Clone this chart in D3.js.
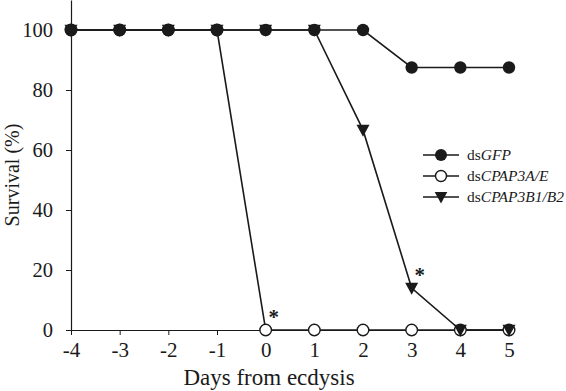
<!DOCTYPE html>
<html>
<head>
<meta charset="utf-8">
<script src="https://cdn.jsdelivr.net/npm/d3@7"></script>
<style>
  body { margin: 0; background: #fff; }
  svg { display: block; font-family: 'Liberation Serif', 'Times New Roman', serif; }
</style>
</head>
<body>
<svg id="chart" width="566" height="391"></svg>
<script>
const days = [-4, -3, -2, -1, 0, 1, 2, 3, 4, 5];
const dsGFP = [100, 100, 100, 100, 100, 100, 100, 87.5, 87.5, 87.5];
const dsCPAP3AE = [100, 100, 100, 100, 0, 0, 0, 0, 0, 0];
const dsCPAP3B1B2 = [100, 100, 100, 100, 100, 100, 66.7, 14, 0, 0];
const yTicks = [0, 20, 40, 60, 80, 100];
const legendNames = ['GFP', 'CPAP3A/E', 'CPAP3B1/B2'];
// asterisks: [day, value]
const stars = [[0, 0], [3, 14]];

const width = 566;
const height = 391;
const margin = { top: 0, right: 57, bottom: 61, left: 71 };
const ink = '#1a1a1a';

const svg = d3.select('#chart');

const x = d3.scaleLinear()
  .domain([-4, 5])
  .range([margin.left, width - margin.right]);

const y = d3.scaleLinear()
  .domain([0, 110])
  .range([height - margin.bottom, margin.top]);

// axes
svg.append('g')
  .attr('transform', `translate(0,${height - margin.bottom})`)
  .call(d3.axisBottom(x).tickValues(days).tickFormat(d3.format('d')).tickSize(5).tickSizeOuter(0))
  .call((g) => {
    g.select('.domain').attr('stroke', ink).attr('stroke-width', 1.2);
    g.selectAll('.tick line').attr('stroke', ink);
    g.selectAll('.tick text')
      .attr('fill', ink)
      .attr('font-size', 21)
      .attr('font-family', 'Liberation Serif, serif')
      .attr('y', 27)
      .attr('dy', 0)
      .text((d) => (d < 0 ? '-' + Math.abs(d) : d));
  });

svg.append('g')
  .attr('transform', `translate(${margin.left},0)`)
  .call(d3.axisLeft(y).tickValues(yTicks).tickSize(5).tickSizeOuter(0))
  .call((g) => {
    g.select('.domain').attr('stroke', ink).attr('stroke-width', 1.2);
    g.selectAll('.tick line').attr('stroke', ink);
    g.selectAll('.tick text')
      .attr('fill', ink)
      .attr('font-size', 20.5)
      .attr('font-family', 'Liberation Serif, serif')
      .attr('x', -18);
  });

// axis titles
svg.append('text')
  .attr('x', 269)
  .attr('y', 385)
  .attr('text-anchor', 'middle')
  .attr('font-size', 23)
  .attr('fill', ink)
  .text('Days from ecdysis');

svg.append('text')
  .attr('transform', `translate(19,175) rotate(-90)`)
  .attr('text-anchor', 'middle')
  .attr('font-size', 20)
  .attr('fill', ink)
  .text('Survival (%)');

const line = d3.line()
  .x((d, i) => x(days[i]))
  .y((d) => y(d));

const triangle = (cx, cy, s) => `M${cx - s},${cy - s * 0.8}L${cx + s},${cy - s * 0.8}L${cx},${cy + s * 1.05}Z`;

function drawSeries(values) {
  svg.append('path')
    .datum(values)
    .attr('fill', 'none')
    .attr('stroke', ink)
    .attr('stroke-width', 1.6)
    .attr('d', line);
}

drawSeries(dsCPAP3AE);
drawSeries(dsCPAP3B1B2);
drawSeries(dsGFP);

// markers
svg.append('g').selectAll('circle')
  .data(dsCPAP3AE)
  .join('circle')
  .attr('cx', (d, i) => x(days[i]))
  .attr('cy', (d) => y(d))
  .attr('r', 5.8)
  .attr('fill', '#fff')
  .attr('stroke', ink)
  .attr('stroke-width', 1.4);

svg.append('g').selectAll('path')
  .data(dsCPAP3B1B2)
  .join('path')
  .attr('d', (d, i) => triangle(x(days[i]), y(d), 6.5))
  .attr('fill', ink);

svg.append('g').selectAll('circle')
  .data(dsGFP)
  .join('circle')
  .attr('cx', (d, i) => x(days[i]))
  .attr('cy', (d) => y(d))
  .attr('r', 6.2)
  .attr('fill', ink);

// asterisks
svg.append('g').selectAll('text')
  .data(stars)
  .join('text')
  .attr('x', (d) => x(d[0]) + 8)
  .attr('y', (d) => y(d[1]) - 6)
  .attr('text-anchor', 'middle')
  .attr('font-size', 21)
  .attr('font-weight', 'bold')
  .attr('fill', ink)
  .text('*');

// legend
const legend = svg.append('g').attr('transform', 'translate(423,155)');
legendNames.forEach((name, i) => {
  const row = legend.append('g').attr('transform', `translate(0,${i * 21})`);
  row.append('line')
    .attr('x1', 0).attr('x2', 36)
    .attr('stroke', ink).attr('stroke-width', 1.6);
  if (i === 0) {
    row.append('circle').attr('cx', 18).attr('r', 6).attr('fill', ink);
  } else if (i === 1) {
    row.append('circle').attr('cx', 18).attr('r', 5.5)
      .attr('fill', '#fff').attr('stroke', ink).attr('stroke-width', 1.4);
  } else {
    row.append('path').attr('d', triangle(18, 0, 6.3)).attr('fill', ink);
  }
  const t = row.append('text')
    .attr('x', 44)
    .attr('dy', '0.33em')
    .attr('font-size', 15.5)
    .attr('fill', ink);
  t.append('tspan').text('ds');
  t.append('tspan').attr('font-style', 'italic').text(name);
});
</script>
</body>
</html>
